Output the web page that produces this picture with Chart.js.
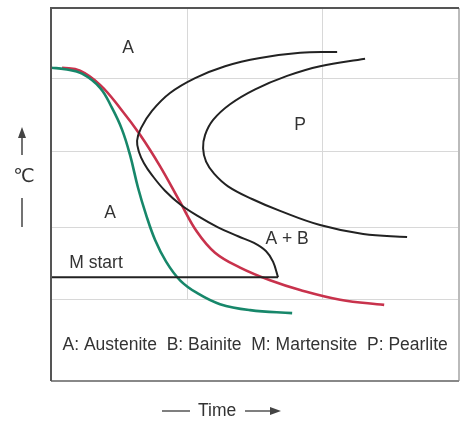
<!DOCTYPE html>
<html>
<head>
<meta charset="utf-8">
<script src="https://cdn.jsdelivr.net/npm/chart.js@4.4.1/dist/chart.umd.min.js"></script>
<style>
  html, body { margin: 0; padding: 0; background: #fff; }
  #wrap { width: 461px; height: 424px; position: relative; }
</style>
</head>
<body>
<div id="wrap"><canvas id="ttt"></canvas></div>
<script>
// values (time in grid columns, temperature in arbitrary units)
const gridX = [1, 2];
const gridY = [1.09, 2.06, 3.07, 4.05];

const greenX = [0, 0.103, 0.229, 0.362, 0.450, 0.524, 0.583, 0.642, 0.701, 0.768, 0.849, 0.952, 1.077, 1.247, 1.469, 1.779];
const greenY = [4.20, 4.18, 4.12, 3.93, 3.66, 3.37, 3.03, 2.59, 2.23, 1.89, 1.60, 1.35, 1.18, 1.03, 0.95, 0.91];

const redX = [0.081, 0.214, 0.362, 0.509, 0.657, 0.804, 0.952, 1.077, 1.210, 1.395, 1.616, 1.838, 2.133, 2.458];
const redY = [4.20, 4.16, 3.97, 3.66, 3.30, 2.88, 2.40, 2.00, 1.72, 1.52, 1.35, 1.22, 1.09, 1.02];

const startX = [2.111, 1.838, 1.542, 1.284, 1.063, 0.878, 0.745, 0.664, 0.635, 0.649, 0.686, 0.745, 0.841, 0.952, 1.085, 1.232, 1.380, 1.498, 1.587, 1.638, 1.675];
const startY = [4.41, 4.40, 4.33, 4.22, 4.06, 3.86, 3.62, 3.39, 3.22, 3.07, 2.92, 2.76, 2.55, 2.37, 2.21, 2.06, 1.94, 1.85, 1.74, 1.60, 1.39];

const endX = [2.317, 1.985, 1.742, 1.506, 1.321, 1.196, 1.137, 1.122, 1.144, 1.203, 1.306, 1.483, 1.690, 1.985, 2.303, 2.627];
const endY = [4.32, 4.22, 4.09, 3.91, 3.71, 3.50, 3.30, 3.12, 2.94, 2.78, 2.61, 2.44, 2.28, 2.09, 1.97, 1.93];

const msX = [0, 1.675];
const msY = [1.39, 1.39];

const labelText = ['A', 'P', 'A', 'A + B', 'M start', 'A: Austenite  B: Bainite  M: Martensite  P: Pearlite'];
const labelX = [0.568, 1.838, 0.435, 1.742, 0.332, 1.506];
const labelY = [4.40, 3.37, 2.19, 1.84, 1.52, 0.42];

const pts = (xs, ys) => xs.map((x, i) => ({x: x, y: ys[i]}));

const ink = '#333';
const font = '17.5px "Liberation Sans", Arial, sans-serif';

const gridLines = {
    id: 'gridLines',
    beforeDatasetsDraw(chart) {
        const c = chart.ctx, a = chart.chartArea;
        const sx = chart.scales.x, sy = chart.scales.y;
        const low = sy.getPixelForValue(gridY[0]);
        c.save();
        c.strokeStyle = '#d8d8d8';
        c.lineWidth = 1;
        gridX.forEach(v => {
            const px = Math.round(sx.getPixelForValue(v)) + 0.5;
            c.beginPath(); c.moveTo(px, a.top); c.lineTo(px, low); c.stroke();
        });
        c.restore();
    }
};

const frameAndText = {
    id: 'frameAndText',
    afterDraw(chart) {
        const c = chart.ctx, a = chart.chartArea;
        const sx = chart.scales.x, sy = chart.scales.y;
        c.save();
        // frame
        c.lineWidth = 2;
        c.strokeStyle = '#bbb';
        c.beginPath(); c.moveTo(a.right, a.top); c.lineTo(a.right, a.bottom); c.stroke();
        c.strokeStyle = '#888';
        c.beginPath(); c.moveTo(a.left, a.bottom); c.lineTo(a.right, a.bottom); c.stroke();
        c.strokeStyle = '#555';
        c.beginPath(); c.moveTo(a.left, a.bottom); c.lineTo(a.left, a.top); c.lineTo(a.right, a.top); c.stroke();

        // region labels
        c.fillStyle = ink;
        c.font = font;
        c.textAlign = 'center';
        c.textBaseline = 'alphabetic';
        labelText.forEach((t, i) => {
            c.fillText(t, sx.getPixelForValue(labelX[i]), sy.getPixelForValue(labelY[i]));
        });

        // temperature axis: arrow, symbol, bar
        const lx = a.left - 29;
        c.strokeStyle = '#444';
        c.fillStyle = '#444';
        c.lineWidth = 1.5;
        c.beginPath(); c.moveTo(lx, a.top + 147); c.lineTo(lx, a.top + 126); c.stroke();
        c.beginPath(); c.moveTo(lx, a.top + 119); c.lineTo(lx - 4, a.top + 130); c.lineTo(lx + 4, a.top + 130); c.closePath(); c.fill();
        c.beginPath(); c.moveTo(lx, a.top + 190); c.lineTo(lx, a.top + 219); c.stroke();
        c.fillStyle = ink;
        c.font = '19px "DejaVu Sans", sans-serif';
        c.textBaseline = 'middle';
        c.fillText('\u2103', lx + 2, a.top + 169);

        // time axis: bar, word, arrow
        const ty = a.bottom + 30;
        c.strokeStyle = '#555';
        c.fillStyle = '#444';
        c.beginPath(); c.moveTo(162, ty); c.lineTo(190, ty); c.stroke();
        c.beginPath(); c.moveTo(245, ty); c.lineTo(272, ty); c.stroke();
        c.beginPath(); c.moveTo(281, ty); c.lineTo(270, ty - 4); c.lineTo(270, ty + 4); c.closePath(); c.fill();
        c.fillStyle = ink;
        c.font = font;
        c.textAlign = 'left';
        c.fillText('Time', 198, ty);
        c.restore();
    }
};

const line = (data, color, width, tension) => ({
    data: data,
    showLine: true,
    borderColor: color,
    borderWidth: width,
    pointRadius: 0,
    tension: tension,
    fill: false,
    borderCapStyle: 'butt',
});

new Chart(document.getElementById('ttt'), {
    type: 'scatter',
    plugins: [gridLines, frameAndText],
    data: {
        datasets: [
            line(pts(msX, msY), '#222', 2, 0),
            line(pts(startX, startY), '#222', 2, 0.4),
            line(pts(endX, endY), '#222', 2, 0.4),
            line(pts(greenX, greenY), '#17876a', 2.6, 0.4),
            line(pts(redX, redY), '#c8324c', 2.6, 0.4),
        ]
    },
    options: {
        responsive: true,
        maintainAspectRatio: false,
        animation: false,
        layout: {padding: {top: 8, right: 2, left: 0, bottom: 0}},
        scales: {
            x: {
                type: 'linear', min: 0, max: 3.01,
                afterFit: s => { s.height = 43; },
                ticks: {display: false},
                grid: {display: false},
                border: {display: false},
            },
            y: {
                type: 'linear', min: 0, max: 5,
                afterBuildTicks: s => { s.ticks = gridY.map(v => ({value: v})); },
                afterFit: s => { s.width = 51; },
                ticks: {display: false},
                grid: {color: '#d8d8d8', lineWidth: 1, drawTicks: false},
                border: {display: false},
            }
        },
        plugins: {
            legend: {display: false},
            tooltip: {enabled: false},
        }
    }
});
</script>
</body>
</html>
